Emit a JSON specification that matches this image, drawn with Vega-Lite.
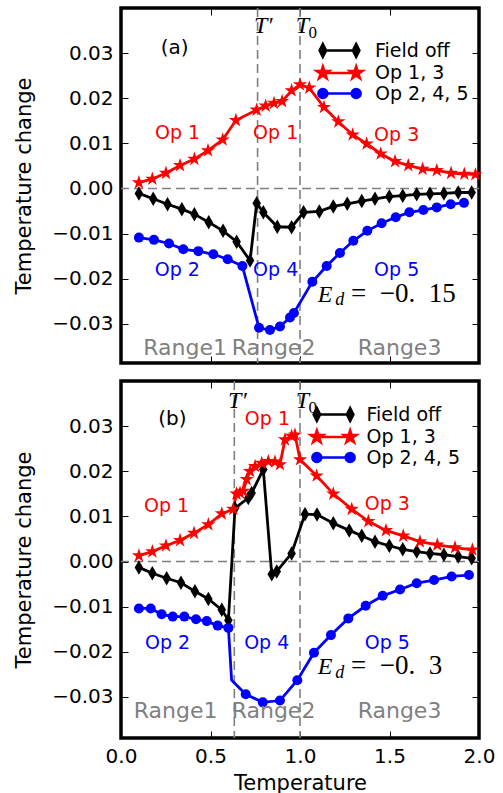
{
"$schema": "https://vega.github.io/schema/vega-lite/v6.json",
"autosize": {"type": "none"},
"padding": {"left": 121, "top": 8, "right": 382, "bottom": 785},
"background": "white",
"config": {
  "font": "DejaVu Sans",
  "view": {"stroke": "#000000", "strokeWidth": 3.5},
  "axis": {"domain": false, "grid": false, "ticks": true, "tickColor": "#000000", "tickWidth": 1, "tickSize": -7, "labelFont": "DejaVu Sans", "labelFontSize": 20, "labelColor": "#000000", "labelPadding": 15, "labelFlush": false, "labelOverlap": false, "labelBound": false, "titleFont": "DejaVu Sans", "titleFontSize": 21, "titleFontWeight": "normal", "titleColor": "#000000"},
  "legend": {"symbolSize": 100, "labelFontSize": 19, "labelFont": "DejaVu Sans", "labelColor": "#000000", "rowPadding": -0.5, "padding": 0, "symbolStrokeWidth": 2.5, "labelLimit": 300, "offset": 0}
},
"datasets": {
  "a": [
    {"T":0.10,"v":-0.0011,"series":"Field off"},{"T":0.18,"v":-0.0023,"series":"Field off"},{"T":0.26,"v":-0.0035,"series":"Field off"},{"T":0.34,"v":-0.0046,"series":"Field off"},{"T":0.41,"v":-0.0057,"series":"Field off"},{"T":0.49,"v":-0.0075,"series":"Field off"},{"T":0.57,"v":-0.0094,"series":"Field off"},{"T":0.646,"v":-0.0118,"series":"Field off"},{"T":0.721,"v":-0.0160,"series":"Field off"},{"T":0.758,"v":-0.0033,"series":"Field off"},{"T":0.795,"v":-0.0053,"series":"Field off"},{"T":0.873,"v":-0.0085,"series":"Field off"},{"T":0.953,"v":-0.0086,"series":"Field off"},{"T":1.02,"v":-0.0053,"series":"Field off"},{"T":1.108,"v":-0.0051,"series":"Field off"},{"T":1.186,"v":-0.0040,"series":"Field off"},{"T":1.264,"v":-0.0034,"series":"Field off"},{"T":1.345,"v":-0.0028,"series":"Field off"},{"T":1.419,"v":-0.0023,"series":"Field off"},{"T":1.499,"v":-0.0018,"series":"Field off"},{"T":1.574,"v":-0.0016,"series":"Field off"},{"T":1.652,"v":-0.0013,"series":"Field off"},{"T":1.726,"v":-0.0012,"series":"Field off"},{"T":1.804,"v":-0.0011,"series":"Field off"},{"T":1.884,"v":-0.0009,"series":"Field off"},{"T":1.959,"v":-0.0009,"series":"Field off"},
    {"T":0.10,"v":0.0013,"series":"Op 1, 3"},{"T":0.175,"v":0.0021,"series":"Op 1, 3"},{"T":0.251,"v":0.0034,"series":"Op 1, 3"},{"T":0.33,"v":0.0051,"series":"Op 1, 3"},{"T":0.41,"v":0.0065,"series":"Op 1, 3"},{"T":0.486,"v":0.0084,"series":"Op 1, 3"},{"T":0.568,"v":0.0108,"series":"Op 1, 3"},{"T":0.642,"v":0.0151,"series":"Op 1, 3"},{"T":0.758,"v":0.0174,"series":"Op 1, 3"},{"T":0.808,"v":0.0183,"series":"Op 1, 3"},{"T":0.855,"v":0.0189,"series":"Op 1, 3"},{"T":0.90,"v":0.0193,"series":"Op 1, 3"},{"T":0.953,"v":0.0217,"series":"Op 1, 3"},{"T":1.0,"v":0.0230,"series":"Op 1, 3"},{"T":1.052,"v":0.0223,"series":"Op 1, 3"},{"T":1.134,"v":0.0180,"series":"Op 1, 3"},{"T":1.214,"v":0.0148,"series":"Op 1, 3"},{"T":1.294,"v":0.0119,"series":"Op 1, 3"},{"T":1.372,"v":0.0099,"series":"Op 1, 3"},{"T":1.451,"v":0.0077,"series":"Op 1, 3"},{"T":1.531,"v":0.0060,"series":"Op 1, 3"},{"T":1.605,"v":0.0051,"series":"Op 1, 3"},{"T":1.685,"v":0.0043,"series":"Op 1, 3"},{"T":1.764,"v":0.0040,"series":"Op 1, 3"},{"T":1.844,"v":0.0034,"series":"Op 1, 3"},{"T":1.918,"v":0.0032,"series":"Op 1, 3"},{"T":1.98,"v":0.0031,"series":"Op 1, 3"},
    {"T":0.10,"v":-0.0109,"series":"Op 2, 4, 5"},{"T":0.184,"v":-0.0114,"series":"Op 2, 4, 5"},{"T":0.268,"v":-0.0122,"series":"Op 2, 4, 5"},{"T":0.348,"v":-0.0135,"series":"Op 2, 4, 5"},{"T":0.432,"v":-0.0139,"series":"Op 2, 4, 5"},{"T":0.516,"v":-0.0146,"series":"Op 2, 4, 5"},{"T":0.596,"v":-0.0157,"series":"Op 2, 4, 5"},{"T":0.678,"v":-0.0172,"series":"Op 2, 4, 5"},{"T":0.771,"v":-0.0309,"series":"Op 2, 4, 5"},{"T":0.832,"v":-0.0314,"series":"Op 2, 4, 5"},{"T":0.888,"v":-0.0306,"series":"Op 2, 4, 5"},{"T":0.944,"v":-0.0286,"series":"Op 2, 4, 5"},{"T":0.966,"v":-0.0276,"series":"Op 2, 4, 5"},{"T":1.069,"v":-0.0207,"series":"Op 2, 4, 5"},{"T":1.149,"v":-0.0172,"series":"Op 2, 4, 5"},{"T":1.223,"v":-0.0143,"series":"Op 2, 4, 5"},{"T":1.298,"v":-0.0116,"series":"Op 2, 4, 5"},{"T":1.376,"v":-0.0094,"series":"Op 2, 4, 5"},{"T":1.456,"v":-0.0077,"series":"Op 2, 4, 5"},{"T":1.535,"v":-0.0064,"series":"Op 2, 4, 5"},{"T":1.611,"v":-0.0053,"series":"Op 2, 4, 5"},{"T":1.689,"v":-0.0048,"series":"Op 2, 4, 5"},{"T":1.764,"v":-0.0042,"series":"Op 2, 4, 5"},{"T":1.842,"v":-0.0035,"series":"Op 2, 4, 5"},{"T":1.916,"v":-0.0032,"series":"Op 2, 4, 5"}
  ],
  "b": [
    {"T":0.10,"v":-0.0013,"series":"Field off"},{"T":0.175,"v":-0.0026,"series":"Field off"},{"T":0.255,"v":-0.0037,"series":"Field off"},{"T":0.335,"v":-0.0047,"series":"Field off"},{"T":0.413,"v":-0.0066,"series":"Field off"},{"T":0.488,"v":-0.0083,"series":"Field off"},{"T":0.563,"v":-0.0107,"series":"Field off"},{"T":0.60,"v":-0.0130,"series":"Field off"},{"T":0.637,"v":0.0118,"series":"Field off"},{"T":0.711,"v":0.0141,"series":"Field off"},{"T":0.730,"v":0.0152,"series":"Field off"},{"T":0.795,"v":0.0204,"series":"Field off"},{"T":0.842,"v":-0.0028,"series":"Field off"},{"T":0.870,"v":-0.0022,"series":"Field off"},{"T":0.953,"v":0.0018,"series":"Field off"},{"T":1.028,"v":0.0105,"series":"Field off"},{"T":1.095,"v":0.0104,"series":"Field off"},{"T":1.186,"v":0.0085,"series":"Field off"},{"T":1.275,"v":0.0069,"series":"Field off"},{"T":1.345,"v":0.0057,"series":"Field off"},{"T":1.419,"v":0.0044,"series":"Field off"},{"T":1.499,"v":0.0035,"series":"Field off"},{"T":1.574,"v":0.0027,"series":"Field off"},{"T":1.652,"v":0.0022,"series":"Field off"},{"T":1.726,"v":0.0018,"series":"Field off"},{"T":1.804,"v":0.0015,"series":"Field off"},{"T":1.884,"v":0.0011,"series":"Field off"},{"T":1.959,"v":0.0007,"series":"Field off"},
    {"T":0.10,"v":0.0013,"series":"Op 1, 3"},{"T":0.175,"v":0.0022,"series":"Op 1, 3"},{"T":0.251,"v":0.0035,"series":"Op 1, 3"},{"T":0.33,"v":0.0047,"series":"Op 1, 3"},{"T":0.408,"v":0.0063,"series":"Op 1, 3"},{"T":0.488,"v":0.0082,"series":"Op 1, 3"},{"T":0.563,"v":0.0106,"series":"Op 1, 3"},{"T":0.627,"v":0.0116,"series":"Op 1, 3"},{"T":0.645,"v":0.0150,"series":"Op 1, 3"},{"T":0.665,"v":0.0152,"series":"Op 1, 3"},{"T":0.683,"v":0.0156,"series":"Op 1, 3"},{"T":0.702,"v":0.0182,"series":"Op 1, 3"},{"T":0.721,"v":0.0200,"series":"Op 1, 3"},{"T":0.749,"v":0.0211,"series":"Op 1, 3"},{"T":0.786,"v":0.0218,"series":"Op 1, 3"},{"T":0.823,"v":0.0222,"series":"Op 1, 3"},{"T":0.860,"v":0.0221,"series":"Op 1, 3"},{"T":0.888,"v":0.0215,"series":"Op 1, 3"},{"T":0.916,"v":0.0270,"series":"Op 1, 3"},{"T":0.953,"v":0.0278,"series":"Op 1, 3"},{"T":0.972,"v":0.0281,"series":"Op 1, 3"},{"T":1.0,"v":0.0226,"series":"Op 1, 3"},{"T":1.093,"v":0.0190,"series":"Op 1, 3"},{"T":1.186,"v":0.0150,"series":"Op 1, 3"},{"T":1.289,"v":0.0116,"series":"Op 1, 3"},{"T":1.382,"v":0.0089,"series":"Op 1, 3"},{"T":1.480,"v":0.0069,"series":"Op 1, 3"},{"T":1.577,"v":0.0057,"series":"Op 1, 3"},{"T":1.670,"v":0.0044,"series":"Op 1, 3"},{"T":1.767,"v":0.0037,"series":"Op 1, 3"},{"T":1.866,"v":0.0031,"series":"Op 1, 3"},{"T":1.963,"v":0.0026,"series":"Op 1, 3"},
    {"T":0.10,"v":-0.0104,"series":"Op 2, 4, 5"},{"T":0.166,"v":-0.0104,"series":"Op 2, 4, 5"},{"T":0.227,"v":-0.0117,"series":"Op 2, 4, 5"},{"T":0.289,"v":-0.0122,"series":"Op 2, 4, 5"},{"T":0.354,"v":-0.0122,"series":"Op 2, 4, 5"},{"T":0.419,"v":-0.0128,"series":"Op 2, 4, 5"},{"T":0.479,"v":-0.0132,"series":"Op 2, 4, 5"},{"T":0.540,"v":-0.0142,"series":"Op 2, 4, 5"},{"T":0.60,"v":-0.0147,"series":"Op 2, 4, 5"},{"T":0.618,"v":-0.0263,"series":"Op 2, 4, 5","m":0},{"T":0.697,"v":-0.0294,"series":"Op 2, 4, 5"},{"T":0.792,"v":-0.0312,"series":"Op 2, 4, 5"},{"T":0.888,"v":-0.0308,"series":"Op 2, 4, 5"},{"T":0.985,"v":-0.0263,"series":"Op 2, 4, 5"},{"T":1.078,"v":-0.0202,"series":"Op 2, 4, 5"},{"T":1.173,"v":-0.0163,"series":"Op 2, 4, 5"},{"T":1.270,"v":-0.0126,"series":"Op 2, 4, 5"},{"T":1.367,"v":-0.0098,"series":"Op 2, 4, 5"},{"T":1.462,"v":-0.0076,"series":"Op 2, 4, 5"},{"T":1.559,"v":-0.0062,"series":"Op 2, 4, 5"},{"T":1.652,"v":-0.0048,"series":"Op 2, 4, 5"},{"T":1.749,"v":-0.0041,"series":"Op 2, 4, 5"},{"T":1.847,"v":-0.0033,"series":"Op 2, 4, 5"},{"T":1.944,"v":-0.0030,"series":"Op 2, 4, 5"}
  ],
  "vl_a": [{"t":0.763},{"t":1.0}],
  "vl_b": [{"t":0.633},{"t":1.0}],
  "ann_a": [
    {"T":0.30,"v":0.0311,"label":"(a)","kind":"panel"},
    {"T":0.316,"v":0.0122,"label":"Op 1","kind":"op13"},
    {"T":0.864,"v":0.0122,"label":"Op 1","kind":"op13"},
    {"T":1.54,"v":0.0118,"label":"Op 3","kind":"op13"},
    {"T":0.315,"v":-0.0180,"label":"Op 2","kind":"op245"},
    {"T":0.864,"v":-0.0180,"label":"Op 4","kind":"op245"},
    {"T":1.54,"v":-0.0180,"label":"Op 5","kind":"op245"},
    {"T":0.358,"v":-0.0354,"label":"Range1","kind":"range"},
    {"T":0.852,"v":-0.0354,"label":"Range2","kind":"range"},
    {"T":1.556,"v":-0.0354,"label":"Range3","kind":"range"},
    {"T":0.795,"v":0.0344,"label":"T′","kind":"mi"},
    {"T":1.013,"v":0.0344,"label":"T","kind":"mi"},
    {"T":1.071,"v":0.0333,"label":"0","kind":"subr"},
    {"T":1.14,"v":-0.0252,"label":"E","kind":"mi"},
    {"T":1.222,"v":-0.0259,"label":"d","kind":"subi"},
    {"T":1.285,"v":-0.0252,"label":"=\u2002−0.\u200215","kind":"eq"}
  ],
  "ann_b": [
    {"T":0.287,"v":0.0315,"label":"(b)","kind":"panel"},
    {"T":0.818,"v":0.0315,"label":"Op 1","kind":"op13"},
    {"T":0.255,"v":0.0123,"label":"Op 1","kind":"op13"},
    {"T":1.488,"v":0.0127,"label":"Op 3","kind":"op13"},
    {"T":0.26,"v":-0.01795,"label":"Op 2","kind":"op245"},
    {"T":0.814,"v":-0.01795,"label":"Op 4","kind":"op245"},
    {"T":1.488,"v":-0.01795,"label":"Op 5","kind":"op245"},
    {"T":0.305,"v":-0.0331,"label":"Range1","kind":"range"},
    {"T":0.852,"v":-0.0331,"label":"Range2","kind":"range"},
    {"T":1.556,"v":-0.0331,"label":"Range3","kind":"range"},
    {"T":0.65,"v":0.0340,"label":"T′","kind":"mi"},
    {"T":1.013,"v":0.0340,"label":"T","kind":"mi"},
    {"T":1.071,"v":0.0329,"label":"0","kind":"subr"},
    {"T":1.14,"v":-0.025,"label":"E","kind":"mi"},
    {"T":1.222,"v":-0.0257,"label":"d","kind":"subi"},
    {"T":1.285,"v":-0.025,"label":"=\u2002−0.\u20023","kind":"eq"}
  ]
},
"spacing": 12,
"resolve": {"scale": {"color": "independent", "shape": "independent"}, "legend": {"color": "independent", "shape": "independent"}},
"vconcat": [
 {
  "width": 358, "height": 355,
  "resolve": {"axis": {"x": "independent", "y": "independent"}},
  "layer": [
   {"data": {"name": "vl_a"}, "mark": {"type": "rule", "color": "#7f7f7f", "strokeWidth": 1.6, "strokeDash": [9, 5]},
    "encoding": {"x": {"field": "t", "type": "quantitative", "scale": {"domain": [0, 2], "nice": false, "zero": false}, "axis": {"orient": "top", "values": [0, 0.5, 1, 1.5, 2], "labels": false, "title": null}}}},
   {"data": {"values": [{}]}, "mark": {"type": "rule", "color": "#7f7f7f", "strokeWidth": 1.6, "strokeDash": [9, 5]},
    "encoding": {"y": {"datum": 0, "type": "quantitative", "scale": {"domain": [-0.0387, 0.04], "nice": false, "zero": false}, "axis": {"orient": "right", "values": [-0.03, -0.02, -0.01, 0, 0.01, 0.02, 0.03], "labels": false, "title": null}}}},
   {"data": {"name": "a"}, "mark": {"type": "line", "strokeWidth": 2.8},
    "encoding": {
      "x": {"field": "T", "type": "quantitative", "scale": {"domain": [0, 2], "nice": false, "zero": false}, "axis": {"orient": "bottom", "values": [0, 0.5, 1, 1.5, 2], "labels": false, "title": null}},
      "y": {"field": "v", "type": "quantitative", "scale": {"domain": [-0.0387, 0.04], "nice": false, "zero": false}, "axis": {"orient": "left", "values": [-0.03, -0.02, -0.01, 0, 0.01, 0.02, 0.03], "format": ".2f", "title": "Temperature change", "titleX": -91, "titleBaseline": "alphabetic"}},
      "color": {"field": "series", "type": "nominal", "scale": {"domain": ["Field off", "Op 1, 3", "Op 2, 4, 5"], "range": ["#000000", "#ff0000", "#0000ff"]},
        "legend": {"orient": "none", "legendX": 209, "legendY": 33, "title": null, "labelOffset": 26,
          "encode": {"symbols": {"update": {
            "shape": {"signal": "datum.value === 'Field off' ? 'M-3.33,0H3.33M-3.33,-1.3L-2.68,0L-3.33,1.3L-3.98,0ZM3.33,-1.3L3.98,0L3.33,1.3L2.68,0Z' : datum.value === 'Op 1, 3' ? 'M-3.33,0H3.33M-3.33,-1.3L-3.038,-0.402L-2.094,-0.402L-2.858,0.153L-2.566,1.052L-3.33,0.497L-4.094,1.052L-3.802,0.153L-4.566,-0.402L-3.622,-0.402ZM3.33,-1.3L3.622,-0.402L4.566,-0.402L3.802,0.153L4.094,1.052L3.33,0.497L2.566,1.052L2.858,0.153L2.094,-0.402L3.038,-0.402Z' : 'M-3.33,0H3.33M-4.23,0A0.9,0.9,0,1,0,-2.43,0A0.9,0.9,0,1,0,-4.23,0ZM2.43,0A0.9,0.9,0,1,0,4.23,0A0.9,0.9,0,1,0,2.43,0Z'"},
            "fill": {"signal": "datum.value === 'Field off' ? '#000000' : datum.value === 'Op 1, 3' ? '#ff0000' : '#0000ff'"},
            "stroke": {"signal": "datum.value === 'Field off' ? '#000000' : datum.value === 'Op 1, 3' ? '#ff0000' : '#0000ff'"},
            "strokeWidth": {"value": 2.5}, "opacity": {"value": 1}}}}}}}},
   {"data": {"name": "a"}, "transform": [{"filter": "datum.m !== 0"}], "mark": {"type": "point", "filled": true, "size": 100, "opacity": 1, "strokeWidth": 0},
    "encoding": {
      "x": {"field": "T", "type": "quantitative", "axis": null},
      "y": {"field": "v", "type": "quantitative", "axis": null},
      "color": {"field": "series", "type": "nominal", "scale": {"domain": ["Field off", "Op 1, 3", "Op 2, 4, 5"], "range": ["#000000", "#ff0000", "#0000ff"]},
        "legend": {"orient": "none", "legendX": 209, "legendY": 33, "title": null, "labelOffset": 26,
          "encode": {"symbols": {"update": {
            "shape": {"signal": "datum.value === 'Field off' ? 'M-3.33,0H3.33M-3.33,-1.3L-2.68,0L-3.33,1.3L-3.98,0ZM3.33,-1.3L3.98,0L3.33,1.3L2.68,0Z' : datum.value === 'Op 1, 3' ? 'M-3.33,0H3.33M-3.33,-1.3L-3.038,-0.402L-2.094,-0.402L-2.858,0.153L-2.566,1.052L-3.33,0.497L-4.094,1.052L-3.802,0.153L-4.566,-0.402L-3.622,-0.402ZM3.33,-1.3L3.622,-0.402L4.566,-0.402L3.802,0.153L4.094,1.052L3.33,0.497L2.566,1.052L2.858,0.153L2.094,-0.402L3.038,-0.402Z' : 'M-3.33,0H3.33M-4.23,0A0.9,0.9,0,1,0,-2.43,0A0.9,0.9,0,1,0,-4.23,0ZM2.43,0A0.9,0.9,0,1,0,4.23,0A0.9,0.9,0,1,0,2.43,0Z'"},
            "fill": {"signal": "datum.value === 'Field off' ? '#000000' : datum.value === 'Op 1, 3' ? '#ff0000' : '#0000ff'"},
            "stroke": {"signal": "datum.value === 'Field off' ? '#000000' : datum.value === 'Op 1, 3' ? '#ff0000' : '#0000ff'"},
            "strokeWidth": {"value": 2.5}, "opacity": {"value": 1}}}}}},
      "shape": {"field": "series", "type": "nominal", "scale": {"domain": ["Op 1, 3", "Field off", "Op 2, 4, 5"], "range": ["M0,-1.5L0.337,-0.464L1.427,-0.464L0.545,0.177L0.882,1.214L0,0.573L-0.882,1.214L-0.545,0.177L-1.427,-0.464L-0.337,-0.464Z", "M0,-1.45L0.85,0L0,1.45L-0.85,0Z", "circle"]}, "legend": null}}},
   {"data": {"name": "ann_a"}, "transform": [{"filter": "datum.kind === 'panel'"}], "mark": {"type": "text", "color": "#000000", "fontSize": 20, "align": "center", "baseline": "middle"},
    "encoding": {"x": {"field": "T", "type": "quantitative", "axis": null}, "y": {"field": "v", "type": "quantitative", "axis": null}, "text": {"field": "label"}}},
   {"data": {"name": "ann_a"}, "transform": [{"filter": "datum.kind === 'op13'"}], "mark": {"type": "text", "color": "#ff0000", "fontSize": 19, "align": "center", "baseline": "middle"},
    "encoding": {"x": {"field": "T", "type": "quantitative", "axis": null}, "y": {"field": "v", "type": "quantitative", "axis": null}, "text": {"field": "label"}}},
   {"data": {"name": "ann_a"}, "transform": [{"filter": "datum.kind === 'op245'"}], "mark": {"type": "text", "color": "#0000ff", "fontSize": 19, "align": "center", "baseline": "middle"},
    "encoding": {"x": {"field": "T", "type": "quantitative", "axis": null}, "y": {"field": "v", "type": "quantitative", "axis": null}, "text": {"field": "label"}}},
   {"data": {"name": "ann_a"}, "transform": [{"filter": "datum.kind === 'range'"}], "mark": {"type": "text", "color": "#7f7f7f", "fontSize": 22, "align": "center", "baseline": "middle"},
    "encoding": {"x": {"field": "T", "type": "quantitative", "axis": null}, "y": {"field": "v", "type": "quantitative", "axis": null}, "text": {"field": "label"}}},
   {"data": {"name": "ann_a"}, "transform": [{"filter": "datum.kind === 'mi'"}], "mark": {"type": "text", "color": "#000000", "font": "Liberation Serif", "fontStyle": "italic", "fontSize": 24, "align": "center", "baseline": "alphabetic"},
    "encoding": {"x": {"field": "T", "type": "quantitative", "axis": null}, "y": {"field": "v", "type": "quantitative", "axis": null}, "text": {"field": "label"}}},
   {"data": {"name": "ann_a"}, "transform": [{"filter": "datum.kind === 'subi'"}], "mark": {"type": "text", "color": "#000000", "font": "Liberation Serif", "fontStyle": "italic", "fontSize": 18, "align": "center", "baseline": "alphabetic"},
    "encoding": {"x": {"field": "T", "type": "quantitative", "axis": null}, "y": {"field": "v", "type": "quantitative", "axis": null}, "text": {"field": "label"}}},
   {"data": {"name": "ann_a"}, "transform": [{"filter": "datum.kind === 'subr'"}], "mark": {"type": "text", "color": "#000000", "font": "Liberation Serif", "fontSize": 17, "align": "center", "baseline": "alphabetic"},
    "encoding": {"x": {"field": "T", "type": "quantitative", "axis": null}, "y": {"field": "v", "type": "quantitative", "axis": null}, "text": {"field": "label"}}},
   {"data": {"name": "ann_a"}, "transform": [{"filter": "datum.kind === 'eq'"}], "mark": {"type": "text", "color": "#000000", "font": "Liberation Serif", "fontSize": 27, "align": "left", "baseline": "alphabetic"},
    "encoding": {"x": {"field": "T", "type": "quantitative", "axis": null}, "y": {"field": "v", "type": "quantitative", "axis": null}, "text": {"field": "label"}}}
  ]
 },
 {
  "width": 358, "height": 357,
  "resolve": {"axis": {"x": "independent", "y": "independent"}},
  "layer": [
   {"data": {"name": "vl_b"}, "mark": {"type": "rule", "color": "#7f7f7f", "strokeWidth": 1.6, "strokeDash": [9, 5]},
    "encoding": {"x": {"field": "t", "type": "quantitative", "scale": {"domain": [0, 2], "nice": false, "zero": false}, "axis": {"orient": "top", "values": [0, 0.5, 1, 1.5, 2], "labels": false, "title": null}}}},
   {"data": {"values": [{}]}, "mark": {"type": "rule", "color": "#7f7f7f", "strokeWidth": 1.6, "strokeDash": [9, 5]},
    "encoding": {"y": {"datum": 0, "type": "quantitative", "scale": {"domain": [-0.0391, 0.04], "nice": false, "zero": false}, "axis": {"orient": "right", "values": [-0.03, -0.02, -0.01, 0, 0.01, 0.02, 0.03], "labels": false, "title": null}}}},
   {"data": {"name": "b"}, "mark": {"type": "line", "strokeWidth": 2.8},
    "encoding": {
      "x": {"field": "T", "type": "quantitative", "scale": {"domain": [0, 2], "nice": false, "zero": false}, "axis": {"orient": "bottom", "values": [0, 0.5, 1, 1.5, 2], "format": ".1f", "title": "Temperature", "titleY": 51, "titleBaseline": "alphabetic"}},
      "y": {"field": "v", "type": "quantitative", "scale": {"domain": [-0.0391, 0.04], "nice": false, "zero": false}, "axis": {"orient": "left", "values": [-0.03, -0.02, -0.01, 0, 0.01, 0.02, 0.03], "format": ".2f", "title": "Temperature change", "titleX": -91, "titleBaseline": "alphabetic"}},
      "color": {"field": "series", "type": "nominal", "scale": {"domain": ["Field off", "Op 1, 3", "Op 2, 4, 5"], "range": ["#000000", "#ff0000", "#0000ff"]},
        "legend": {"orient": "none", "legendX": 203, "legendY": 24, "title": null, "labelOffset": 23.5,
          "encode": {"symbols": {"update": {
            "shape": {"signal": "datum.value === 'Field off' ? 'M-3.33,0H3.33M-3.33,-1.3L-2.68,0L-3.33,1.3L-3.98,0ZM3.33,-1.3L3.98,0L3.33,1.3L2.68,0Z' : datum.value === 'Op 1, 3' ? 'M-3.33,0H3.33M-3.33,-1.3L-3.038,-0.402L-2.094,-0.402L-2.858,0.153L-2.566,1.052L-3.33,0.497L-4.094,1.052L-3.802,0.153L-4.566,-0.402L-3.622,-0.402ZM3.33,-1.3L3.622,-0.402L4.566,-0.402L3.802,0.153L4.094,1.052L3.33,0.497L2.566,1.052L2.858,0.153L2.094,-0.402L3.038,-0.402Z' : 'M-3.33,0H3.33M-4.23,0A0.9,0.9,0,1,0,-2.43,0A0.9,0.9,0,1,0,-4.23,0ZM2.43,0A0.9,0.9,0,1,0,4.23,0A0.9,0.9,0,1,0,2.43,0Z'"},
            "fill": {"signal": "datum.value === 'Field off' ? '#000000' : datum.value === 'Op 1, 3' ? '#ff0000' : '#0000ff'"},
            "stroke": {"signal": "datum.value === 'Field off' ? '#000000' : datum.value === 'Op 1, 3' ? '#ff0000' : '#0000ff'"},
            "strokeWidth": {"value": 2.5}, "opacity": {"value": 1}}}}}}}},
   {"data": {"name": "b"}, "transform": [{"filter": "datum.m !== 0"}], "mark": {"type": "point", "filled": true, "size": 100, "opacity": 1, "strokeWidth": 0},
    "encoding": {
      "x": {"field": "T", "type": "quantitative", "axis": null},
      "y": {"field": "v", "type": "quantitative", "axis": null},
      "color": {"field": "series", "type": "nominal", "scale": {"domain": ["Field off", "Op 1, 3", "Op 2, 4, 5"], "range": ["#000000", "#ff0000", "#0000ff"]},
        "legend": {"orient": "none", "legendX": 203, "legendY": 24, "title": null, "labelOffset": 23.5,
          "encode": {"symbols": {"update": {
            "shape": {"signal": "datum.value === 'Field off' ? 'M-3.33,0H3.33M-3.33,-1.3L-2.68,0L-3.33,1.3L-3.98,0ZM3.33,-1.3L3.98,0L3.33,1.3L2.68,0Z' : datum.value === 'Op 1, 3' ? 'M-3.33,0H3.33M-3.33,-1.3L-3.038,-0.402L-2.094,-0.402L-2.858,0.153L-2.566,1.052L-3.33,0.497L-4.094,1.052L-3.802,0.153L-4.566,-0.402L-3.622,-0.402ZM3.33,-1.3L3.622,-0.402L4.566,-0.402L3.802,0.153L4.094,1.052L3.33,0.497L2.566,1.052L2.858,0.153L2.094,-0.402L3.038,-0.402Z' : 'M-3.33,0H3.33M-4.23,0A0.9,0.9,0,1,0,-2.43,0A0.9,0.9,0,1,0,-4.23,0ZM2.43,0A0.9,0.9,0,1,0,4.23,0A0.9,0.9,0,1,0,2.43,0Z'"},
            "fill": {"signal": "datum.value === 'Field off' ? '#000000' : datum.value === 'Op 1, 3' ? '#ff0000' : '#0000ff'"},
            "stroke": {"signal": "datum.value === 'Field off' ? '#000000' : datum.value === 'Op 1, 3' ? '#ff0000' : '#0000ff'"},
            "strokeWidth": {"value": 2.5}, "opacity": {"value": 1}}}}}},
      "shape": {"field": "series", "type": "nominal", "scale": {"domain": ["Op 1, 3", "Field off", "Op 2, 4, 5"], "range": ["M0,-1.5L0.337,-0.464L1.427,-0.464L0.545,0.177L0.882,1.214L0,0.573L-0.882,1.214L-0.545,0.177L-1.427,-0.464L-0.337,-0.464Z", "M0,-1.45L0.85,0L0,1.45L-0.85,0Z", "circle"]}, "legend": null}}},
   {"data": {"name": "ann_b"}, "transform": [{"filter": "datum.kind === 'panel'"}], "mark": {"type": "text", "color": "#000000", "fontSize": 20, "align": "center", "baseline": "middle"},
    "encoding": {"x": {"field": "T", "type": "quantitative", "axis": null}, "y": {"field": "v", "type": "quantitative", "axis": null}, "text": {"field": "label"}}},
   {"data": {"name": "ann_b"}, "transform": [{"filter": "datum.kind === 'op13'"}], "mark": {"type": "text", "color": "#ff0000", "fontSize": 19, "align": "center", "baseline": "middle"},
    "encoding": {"x": {"field": "T", "type": "quantitative", "axis": null}, "y": {"field": "v", "type": "quantitative", "axis": null}, "text": {"field": "label"}}},
   {"data": {"name": "ann_b"}, "transform": [{"filter": "datum.kind === 'op245'"}], "mark": {"type": "text", "color": "#0000ff", "fontSize": 19, "align": "center", "baseline": "middle"},
    "encoding": {"x": {"field": "T", "type": "quantitative", "axis": null}, "y": {"field": "v", "type": "quantitative", "axis": null}, "text": {"field": "label"}}},
   {"data": {"name": "ann_b"}, "transform": [{"filter": "datum.kind === 'range'"}], "mark": {"type": "text", "color": "#7f7f7f", "fontSize": 22, "align": "center", "baseline": "middle"},
    "encoding": {"x": {"field": "T", "type": "quantitative", "axis": null}, "y": {"field": "v", "type": "quantitative", "axis": null}, "text": {"field": "label"}}},
   {"data": {"name": "ann_b"}, "transform": [{"filter": "datum.kind === 'mi'"}], "mark": {"type": "text", "color": "#000000", "font": "Liberation Serif", "fontStyle": "italic", "fontSize": 24, "align": "center", "baseline": "alphabetic"},
    "encoding": {"x": {"field": "T", "type": "quantitative", "axis": null}, "y": {"field": "v", "type": "quantitative", "axis": null}, "text": {"field": "label"}}},
   {"data": {"name": "ann_b"}, "transform": [{"filter": "datum.kind === 'subi'"}], "mark": {"type": "text", "color": "#000000", "font": "Liberation Serif", "fontStyle": "italic", "fontSize": 18, "align": "center", "baseline": "alphabetic"},
    "encoding": {"x": {"field": "T", "type": "quantitative", "axis": null}, "y": {"field": "v", "type": "quantitative", "axis": null}, "text": {"field": "label"}}},
   {"data": {"name": "ann_b"}, "transform": [{"filter": "datum.kind === 'subr'"}], "mark": {"type": "text", "color": "#000000", "font": "Liberation Serif", "fontSize": 17, "align": "center", "baseline": "alphabetic"},
    "encoding": {"x": {"field": "T", "type": "quantitative", "axis": null}, "y": {"field": "v", "type": "quantitative", "axis": null}, "text": {"field": "label"}}},
   {"data": {"name": "ann_b"}, "transform": [{"filter": "datum.kind === 'eq'"}], "mark": {"type": "text", "color": "#000000", "font": "Liberation Serif", "fontSize": 27, "align": "left", "baseline": "alphabetic"},
    "encoding": {"x": {"field": "T", "type": "quantitative", "axis": null}, "y": {"field": "v", "type": "quantitative", "axis": null}, "text": {"field": "label"}}}
  ]
 }
]
}
